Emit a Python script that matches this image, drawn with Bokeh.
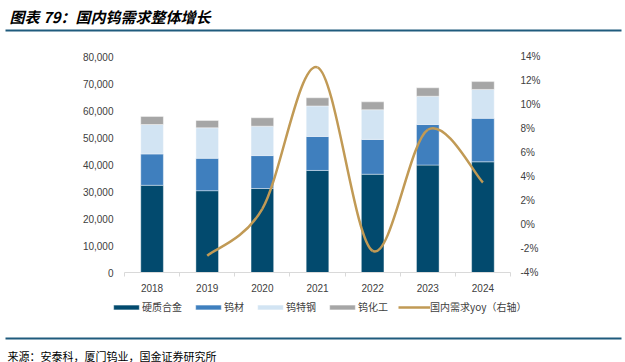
from bokeh.plotting import figure
from bokeh.models import (Range1d, LinearAxis, FixedTicker, NumeralTickFormatter,
                          PrintfTickFormatter, Legend, LegendItem, Label, BoxAnnotation,
                          ColumnDataSource)
from bokeh.embed import file_html
from bokeh.resources import INLINE

years = [2018, 2019, 2020, 2021, 2022, 2023, 2024]
hardmetal = [32300, 30300, 31100, 37800, 36400, 39800, 41000]
tungsten_mat = [11600, 12000, 12200, 12600, 12900, 15000, 16100]
tungsten_steel = [10900, 11300, 10900, 11300, 11000, 10500, 10700]
tungsten_chem = [3000, 2700, 3100, 3000, 2900, 3100, 2900]
yoy_years = [2019, 2020, 2021, 2022, 2023, 2024]
yoy = [-2.6, 1.3, 13.1, -2.2, 7.9, 3.5]
left_ticks = [0, 10000, 20000, 30000, 40000, 50000, 60000, 70000, 80000]
right_ticks = [-4, -2, 0, 2, 4, 6, 8, 10, 12, 14]

names = ["硬质合金", "钨材", "钨特钢", "钨化工"]
line_name = "国内需求yoy（右轴）"
title_text = "图表 79：国内钨需求整体增长"
source_text = "来源：安泰科，厦门钨业，国金证券研究所"

colors = ["#024A6E", "#3F7FBE", "#D2E4F3", "#A6A6A6"]
line_color = "#C19A55"
text_color = "#404040"
rule_color = "#1F5B7D"

# canvas == frame; chart area placed via the ranges
W, H = 625, 362
AX_L, AX_R, AX_T, AX_B = 124, 510, 56, 272          # plot area in px (from top-left)
x_lo, x_hi = years[0] - 0.5, years[-1] + 0.5
ppx = (AX_R - AX_L) / (x_hi - x_lo)
y_lo, y_hi = left_ticks[0], left_ticks[-1]
r_lo, r_hi = right_ticks[0], right_ticks[-1]
ypx = (y_hi - y_lo) / (AX_B - AX_T)
rpx = (r_hi - r_lo) / (AX_B - AX_T)
xs = x_lo - AX_L / ppx
ys = y_lo - (H - AX_B) * ypx
rs = r_lo - (H - AX_B) * rpx

p = figure(width=W, height=H, output_backend="svg", toolbar_location=None,
           x_range=Range1d(xs, xs + W / ppx), y_range=Range1d(ys, ys + H * ypx),
           min_border=0)
p.outline_line_color = None
p.xgrid.visible = False
p.ygrid.visible = False
p.extra_y_ranges = {"yoy": Range1d(rs, rs + H * rpx)}

src = ColumnDataSource(dict(x=years, a=hardmetal, b=tungsten_mat, c=tungsten_steel, d=tungsten_chem))
bars = p.vbar_stack(["a", "b", "c", "d"], x="x", width=0.41, source=src,
                    fill_color=colors, line_color="white", line_alpha=0.5, line_width=0.8)

# smooth (Excel-like) curve through the yoy points using bezier segments
n = len(yoy_years)
x0, y0, x1, y1, cx0, cy0, cx1, cy1 = ([] for _ in range(8))
for i in range(n - 1):
    pm = max(i - 1, 0)
    pn = min(i + 2, n - 1)
    x0.append(yoy_years[i]); y0.append(yoy[i])
    x1.append(yoy_years[i + 1]); y1.append(yoy[i + 1])
    cx0.append(yoy_years[i] + (yoy_years[i + 1] - yoy_years[pm]) / 6)
    cy0.append(yoy[i] + (yoy[i + 1] - yoy[pm]) / 6)
    cx1.append(yoy_years[i + 1] - (yoy_years[pn] - yoy_years[i]) / 6)
    cy1.append(yoy[i + 1] - (yoy[pn] - yoy[i]) / 6)
bez = p.bezier(x0=x0, y0=y0, x1=x1, y1=y1, cx0=cx0, cy0=cy0, cx1=cx1, cy1=cy1,
               line_color=line_color, line_width=2.5, y_range_name="yoy")

# axes (floating at the plot-area edges)
xa = p.xaxis[0]
xa.fixed_location = y_lo
xa.bounds = (x_lo, x_hi)
xa.ticker = FixedTicker(ticks=years, minor_ticks=[y - 0.5 for y in years] + [x_hi])
xa.axis_line_color = "#D9D9D9"
xa.major_tick_line_color = None
xa.major_tick_out = 0
xa.major_tick_in = 0
xa.minor_tick_out = 4
xa.minor_tick_in = 0
xa.minor_tick_line_color = "#D9D9D9"
xa.major_label_standoff = 7
xa.major_label_text_font = "Liberation Sans"
xa.major_label_text_font_size = "10px"
xa.major_label_text_color = text_color

ya = p.yaxis[0]
ya.fixed_location = x_lo
ya.ticker = FixedTicker(ticks=left_ticks)
ya.formatter = NumeralTickFormatter(format="0,0")
ya.axis_line_color = None
ya.major_tick_line_color = None
ya.minor_tick_line_color = None
ya.major_tick_out = 0
ya.major_label_standoff = 11
ya.major_label_text_font = "Liberation Sans"
ya.major_label_text_font_size = "10px"
ya.major_label_text_color = text_color

ra = LinearAxis(y_range_name="yoy", ticker=FixedTicker(ticks=right_ticks),
                formatter=PrintfTickFormatter(format="%d%%"), fixed_location=x_hi)
ra.axis_line_color = None
ra.major_tick_line_color = None
ra.minor_tick_line_color = None
ra.major_tick_out = 0
ra.major_label_standoff = 10
ra.major_label_text_font = "Liberation Sans"
ra.major_label_text_font_size = "10px"
ra.major_label_text_color = text_color
p.add_layout(ra, "right")

# legend
items = [LegendItem(label=names[i], renderers=[bars[i]]) for i in range(4)]
items.append(LegendItem(label=line_name, renderers=[bez], index=0))
legend = Legend(items=items, orientation="horizontal", location=(110, H - 314),
                padding=0, margin=0, spacing=10, label_standoff=0,
                glyph_width=32, glyph_height=6, label_height=12,
                label_text_font="Noto Sans CJK SC", label_text_font_size="10px",
                label_text_color=text_color, background_fill_alpha=0,
                border_line_color=None)
p.add_layout(legend, "center")

# title, rules and source (screen units measured from bottom-left)
p.add_layout(Label(x=9, y=H - 16, x_units="screen", y_units="screen",
                   text=title_text, text_font="Noto Sans CJK SC",
                   text_font_style="bold italic", text_font_size="15px",
                   text_color="#000000", text_baseline="middle"))
p.add_layout(BoxAnnotation(left=5, right=621, top=H - 29, bottom=H - 31,
                           left_units="screen", right_units="screen",
                           top_units="screen", bottom_units="screen",
                           fill_color=rule_color, fill_alpha=1, line_color=None))
p.add_layout(BoxAnnotation(left=5, right=621, top=H - 337, bottom=H - 339,
                           left_units="screen", right_units="screen",
                           top_units="screen", bottom_units="screen",
                           fill_color=rule_color, fill_alpha=1, line_color=None))
p.add_layout(Label(x=7, y=H - 355, x_units="screen", y_units="screen",
                   text=source_text, text_font="Noto Sans CJK SC",
                   text_font_size="11px", text_color="#000000", text_baseline="middle"))

open("out.html", "w").write(file_html(p, INLINE))
